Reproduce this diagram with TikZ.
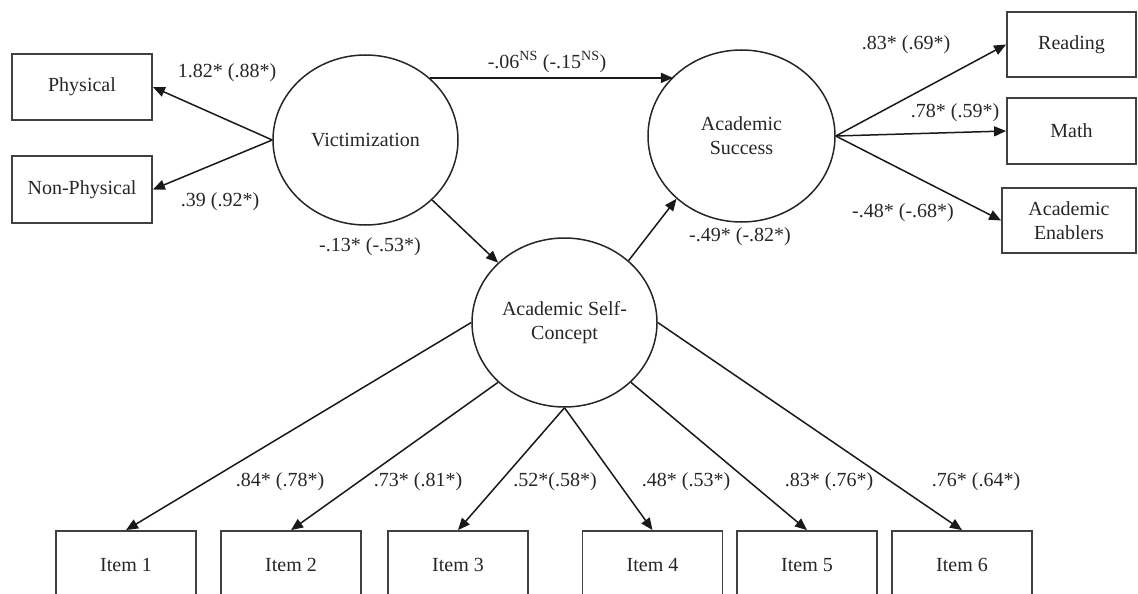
\documentclass[tikz,border=0pt]{standalone}
\usepackage{fontspec}
\setmainfont{Liberation Serif}
\usetikzlibrary{arrows.meta,shapes.geometric}
\begin{document}
\begin{tikzpicture}[x=1pt,y=-1pt,
  font=\fontsize{20}{24}\selectfont, text=black!85,
  box/.style={draw=black!75, line width=1.8pt, inner sep=0pt, align=center},
  lat/.style={draw=black!85, ellipse, line width=1.5pt, minimum width=185pt, minimum height=170pt, inner sep=0pt, align=center},
  arr/.style={draw=black!90, line width=1.5pt, -{Triangle[length=12pt,width=10pt]}},
  lbl/.style={inner sep=0pt}]
\useasboundingbox (0,0) rectangle (1138,594);

% latent variables
\node[lat] (vic) at (365.5,140) {Victimization};
\node[lat, minimum width=187pt, minimum height=172pt] (succ) at (741.5,136) {Academic\\Success};
\node[lat, minimum height=169pt] (sc) at (564.5,322.5) {Academic Self-\\Concept};

% indicators
\node[box, minimum width=140pt, minimum height=66pt] (phys) at (82,87) {Physical};
\node[box, minimum width=140pt, minimum height=67pt] (nphys) at (82,189.5) {Non-Physical};
\node[box, minimum width=129pt, minimum height=65pt] (read) at (1071.5,44.5) {Reading};
\node[box, minimum width=129pt, minimum height=66pt] (math) at (1071.5,131) {Math};
\node[box, minimum width=134pt, minimum height=65pt] (enab) at (1069,220.5) {Academic\\Enablers};

\foreach \n/\x in {1/126,2/291,3/458,4/652.5,5/807,6/962}{
  \node[box, minimum width=140pt, minimum height=68pt] (i\n) at (\x,565) {Item \n};
}

% structural paths
\draw[arr] (vic.west) -- (phys.east);
\draw[arr] (vic.west) -- (nphys.east);
\draw[arr] (vic.44) -- (vic.44 -| succ.139);
\draw[arr] (vic.-42) -- (sc.138);
\draw[arr] (sc.44) -- (succ.224);
\draw[arr] (succ.east) -- (read.west);
\draw[arr] (succ.east) -- (math.west);
\draw[arr] (succ.east) -- (enab.west);

\draw[arr] (sc.west) -- (i1.north);
\draw[arr] (sc.222) -- (i2.north);
\draw[arr] (sc.south) -- (i3.north);
\draw[arr] (sc.south) -- (i4.north);
\draw[arr] (sc.-42) -- (i5.north);
\draw[arr] (sc.east) -- (i6.north);

% labels
\node[lbl] (l1) at (227,73) {1.82* (.88*)};
\node[lbl] (l2) at (220,202) {.39 (.92*)};
\node[lbl] (l3) at (547,62) {-.06\textsuperscript{NS} (-.15\textsuperscript{NS})};
\node[lbl] (l4) at (370,247) {-.13* (-.53*)};
\node[lbl] (l5) at (740,237) {-.49* (-.82*)};
\node[lbl] (l6) at (906,45) {.83* (.69*)};
\node[lbl] (l7) at (955,113) {.78* (.59*)};
\node[lbl] (l8) at (903,213) {-.48* (-.68*)};
\node[lbl] (m1) at (280,482) {.84* (.78*)};
\node[lbl] (m2) at (418,482) {.73* (.81*)};
\node[lbl] (m3) at (555,482) {.52*(.58*)};
\node[lbl] (m4) at (686,482) {.48* (.53*)};
\node[lbl] (m5) at (829,482) {.83* (.76*)};
\node[lbl] (m6) at (976,482) {.76* (.64*)};
\end{tikzpicture}
\end{document}
